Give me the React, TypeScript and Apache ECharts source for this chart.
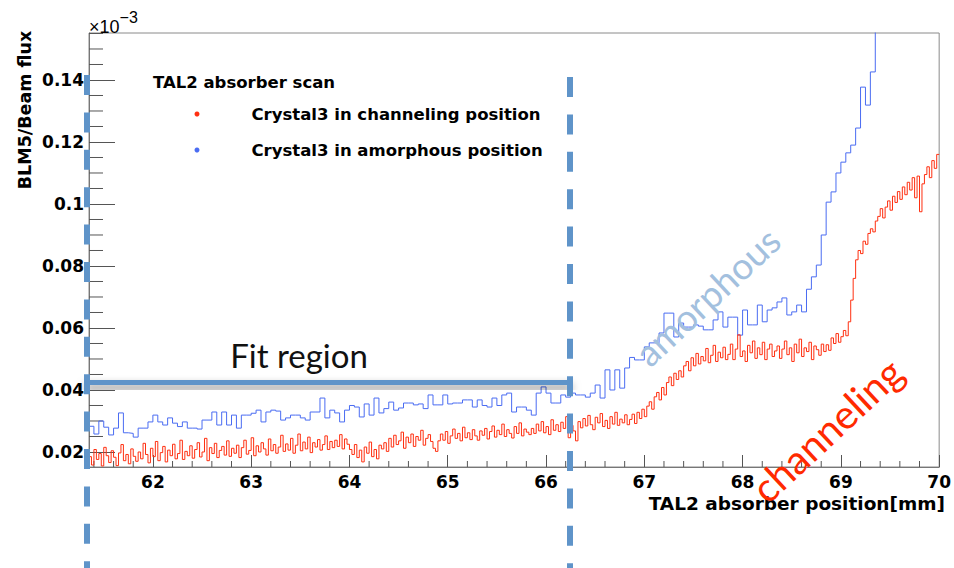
import React, { useEffect, useRef } from 'react';
import * as echarts from 'echarts';

// Axis ranges. Positions in mm; BLM5/Beam flux in units of 1e-5
// (the tick labels are printed in units of 1e-3, hence the ×10^-3 marker).
const X_MIN = 61.35;
const X_MAX = 70.0;
const Y_MIN = 1.516;
const Y_MAX = 15.516;

const SERIES_NAMES = ['Crystal3 in channeling position', 'Crystal3 in amorphous position'];
const LEGEND_TITLE = 'TAL2 absorber scan';
const X_TITLE = 'TAL2 absorber position[mm]';
const Y_TITLE = 'BLM5/Beam flux';

// Crystal3 in channeling position: 0.025 mm bins starting at 61.35 mm
const channelingStart = 61.35;
const channelingBin = 0.025;
const channelingValues = [
  1.85, 1.58, 2.08, 1.76, 1.95, 1.55, 2.15, 1.88, 1.66, 2.04, 1.83, 1.56, 1.97, 2.24, 1.72, 1.92, 1.62, 2.10, 1.86, 1.70,
  2.00, 1.78, 2.28, 1.92, 1.65, 2.12, 1.85, 2.34, 1.72, 1.98, 2.18, 1.68, 2.06, 1.88, 2.25, 1.78, 1.95, 2.38, 1.76, 2.02,
  1.88, 2.20, 1.80, 2.08, 2.30, 1.84, 2.00, 2.44, 1.72, 2.14, 1.95, 2.28, 1.82, 2.05, 2.18, 1.90, 2.36, 1.86, 2.12, 1.96,
  2.22, 1.82, 2.14, 2.38, 1.93, 2.05, 2.46, 1.88, 2.20, 2.00, 2.30, 2.10, 1.90, 2.42, 2.04, 2.24, 1.96, 2.16, 2.54, 2.02,
  2.26, 2.06, 2.44, 1.96, 2.22, 2.58, 2.04, 2.32, 2.10, 2.48, 1.98, 2.30, 2.16, 2.40, 2.06, 2.24, 2.52, 2.08, 2.34, 2.14,
  2.38, 2.18, 2.56, 2.10, 2.42, 2.25, 2.08, 1.92, 2.24, 1.82, 2.06, 1.68, 2.16, 1.96, 2.32, 1.85, 2.08, 1.78, 2.22, 2.10,
  2.30, 2.02, 2.44, 2.16, 2.54, 2.24, 2.36, 2.64, 2.12, 2.48, 2.30, 2.58, 2.18, 2.50, 2.38, 2.70, 2.22, 2.44, 2.56, 2.34,
  2.12, 2.02, 2.36, 2.58, 2.38, 2.66, 2.28, 2.52, 2.74, 2.44, 2.60, 2.36, 2.80, 2.46, 2.62, 2.40, 2.72, 2.52, 2.38, 2.68,
  2.54, 2.76, 2.42, 2.66, 2.84, 2.48, 2.70, 2.56, 2.90, 2.50, 2.72, 2.60, 2.45, 2.82, 2.60, 2.94, 2.52, 2.74, 2.64, 2.56,
  2.76, 2.60, 2.90, 2.68, 2.98, 2.62, 2.82, 2.56, 3.04, 2.70, 2.88, 2.66, 2.96, 2.76, 3.14, 2.46, 2.86, 2.68, 2.36, 2.98,
  2.78, 3.08, 2.84, 3.18, 2.88, 2.72, 3.12, 2.94, 3.24, 2.82, 3.02, 2.76, 3.14, 2.90, 3.28, 2.86, 3.06, 2.94, 3.20, 2.88,
  3.05, 3.22, 2.92, 3.28, 3.08, 3.38, 3.14, 3.48, 3.62, 3.38, 3.78, 3.92, 3.68, 4.08, 3.84, 4.24, 4.42, 4.14, 4.54, 4.34,
  4.62, 4.42, 4.78, 4.92, 4.62, 5.04, 4.78, 5.18, 4.84, 5.08, 4.94, 5.34, 4.88, 5.12, 5.44, 4.92, 5.22, 5.04, 5.38, 4.98,
  5.15, 5.48, 4.98, 5.32, 5.78, 5.08, 5.26, 4.92, 5.44, 5.20, 5.58, 5.02, 5.36, 5.14, 5.54, 4.98, 5.32, 5.48, 5.08, 5.26,
  5.42, 5.02, 5.32, 5.58, 5.14, 5.36, 4.92, 5.48, 5.20, 5.64, 5.08, 5.36, 5.24, 5.54, 4.98, 5.42, 5.30, 5.12, 5.48, 5.24,
  5.46, 5.28, 5.68, 5.50, 5.82, 5.54, 5.72, 5.92, 5.75, 6.20, 6.90, 7.60, 8.20, 8.50, 8.40, 8.80, 8.70, 9.05, 9.20, 9.10,
  9.45, 9.60, 9.85, 9.55, 9.90, 10.10, 9.80, 10.25, 10.05, 10.40, 10.15, 10.55, 10.30, 10.70, 10.45, 10.85, 10.20, 10.90, 9.75, 10.65,
  10.95, 11.20, 10.85, 11.40, 11.15, 11.60,
];

// Crystal3 in amorphous position: 0.05 mm bins starting at 61.35 mm
const amorphousStart = 61.35;
const amorphousBin = 0.05;
const amorphousValues = [
  2.83, 2.58, 3.00, 2.80, 2.55, 2.77, 3.26, 2.62, 2.60, 2.48,
  2.77, 2.77, 2.97, 3.19, 2.97, 2.87, 3.10, 2.93, 2.82, 2.97,
  2.77, 2.77, 2.74, 3.03, 3.03, 3.29, 2.87, 3.29, 2.87, 3.19,
  2.77, 3.19, 3.19, 3.25, 3.35, 2.97, 3.29, 3.35, 3.32, 3.03,
  3.10, 3.19, 3.19, 3.10, 3.03, 3.29, 3.29, 3.74, 3.10, 3.35,
  3.26, 2.97, 3.35, 3.50, 3.45, 3.13, 3.55, 3.19, 3.74, 3.26,
  3.40, 3.61, 3.35, 3.42, 3.58, 3.58, 3.52, 3.55, 3.40, 3.84,
  3.52, 3.52, 3.84, 3.55, 3.58, 3.58, 3.68, 3.68, 3.45, 3.68,
  3.50, 3.45, 3.74, 3.50, 3.84, 3.90, 3.29, 3.45, 3.45, 3.35,
  3.19, 3.90, 4.10, 3.90, 3.58, 3.58, 3.84, 3.77, 3.90, 3.84,
  3.84, 3.77, 3.90, 4.16, 3.74, 4.65, 4.00, 4.65, 4.06, 4.71,
  5.05, 4.97, 4.97, 5.39, 5.52, 5.52, 5.84, 6.48, 6.48, 5.71,
  6.16, 6.03, 6.03, 6.10, 6.06, 5.94, 5.94, 6.26, 6.52, 6.03,
  6.35, 6.35, 5.77, 6.58, 6.10, 6.10, 6.74, 6.20, 6.58, 6.65,
  6.84, 6.97, 6.42, 6.52, 6.74, 6.52, 7.25, 7.65, 8.03, 9.00,
  10.06, 10.39, 11.00, 11.35, 11.65, 11.90, 12.45, 13.77, 13.19, 14.26,
  16.20,
];

// Minor tick positions (major ticks come from the axes themselves)
const xMinorTicks: number[] = [];
for (let i = 61; i < 70; i++) {
  for (const f of [0.2, 0.4, 0.6, 0.8]) {
    const v = +(i + f).toFixed(1);
    if (v > X_MIN && v < X_MAX) xMinorTicks.push(v);
  }
}
const yMinorTicks: number[] = [];
for (let v = 2.5; v < Y_MAX; v += 0.5) {
  if (Math.abs(v / 2 - Math.round(v / 2)) > 1e-6) yMinorTicks.push(v);
}

const RED = '#ff2f10';
const BLUE = '#4a6cf2';
const MARK_BLUE = '#5f94c9';
const ROOT_FONT = 'DejaVu Sans';
const NOTE_FONT = 'Lato';

// histogram bins -> step-line points (low edge of each bin, plus the last upper edge)
function binsToSteps(start: number, width: number, values: number[]): number[][] {
  const pts = values.map((v, i) => [+(start + i * width).toFixed(4), v]);
  pts.push([+(start + values.length * width).toFixed(4), values[values.length - 1]]);
  return pts;
}

function yLabel(v: number): string {
  return String(Math.round((v / 100) * 10000) / 10000);
}

export default function App() {
  const ref = useRef<HTMLDivElement>(null);

  useEffect(() => {
    if (!ref.current) return;
    const chart = echarts.init(ref.current, null, { renderer: 'svg' });

    const tickStyle = { color: '#555', width: 1 };

    const dashedLine = (x: number, y1: number) => ({
      type: 'line',
      z: 100,
      silent: true,
      shape: { x1: x, y1, x2: x, y2: 600 },
      style: { stroke: MARK_BLUE, lineWidth: 6, lineDash: [20, 17.4] },
    });

    const centered = { textAlign: 'center', textVerticalAlign: 'middle', align: 'center', verticalAlign: 'middle' };

    chart.setOption({
      animation: false,
      backgroundColor: '#ffffff',
      title: {
        text: LEGEND_TITLE,
        left: 153,
        top: 74,
        padding: 0,
        textStyle: { fontFamily: ROOT_FONT, fontWeight: 'bold', fontSize: 16.5, color: '#000' },
      },
      legend: {
        data: SERIES_NAMES,
        orient: 'vertical',
        left: 194.5,
        top: 104,
        padding: 0,
        icon: 'circle',
        itemWidth: 5,
        itemHeight: 5,
        itemGap: 16,
        textStyle: {
          fontFamily: ROOT_FONT,
          fontWeight: 'bold',
          fontSize: 16.5,
          color: '#000',
          lineHeight: 20,
          padding: [0, 0, 0, 47],
        },
      },
      grid: {
        left: 89,
        right: 9,
        top: 33,
        bottom: 101,
        show: true,
        borderColor: '#8a8a8a',
        borderWidth: 1,
        containLabel: false,
      },
      xAxis: {
        type: 'value',
        min: X_MIN,
        max: X_MAX,
        minInterval: 1,
        maxInterval: 1,
        splitNumber: 9,
        splitLine: { show: false },
        axisLine: { lineStyle: { color: '#777', width: 1 } },
        axisTick: { inside: true, length: 12, lineStyle: tickStyle },
        axisLabel: {
          showMinLabel: false,
          margin: 6,
          fontFamily: ROOT_FONT,
          fontWeight: 'bold',
          fontSize: 17,
          color: '#000',
        },
      },
      yAxis: {
        type: 'value',
        min: Y_MIN,
        max: Y_MAX,
        minInterval: 2,
        maxInterval: 2,
        splitNumber: 7,
        // exponent marker printed above the axis
        name: '{b|×10}{sup|−3}',
        nameLocation: 'end',
        nameGap: -3,
        nameTextStyle: {
          align: 'left',
          verticalAlign: 'bottom',
          color: '#000',
          rich: {
            b: { fontFamily: 'Liberation Sans', fontSize: 18, lineHeight: 27, verticalAlign: 'bottom', color: '#000' },
            sup: { fontFamily: 'Liberation Sans', fontSize: 16, lineHeight: 16, verticalAlign: 'top', color: '#000' },
          },
        },
        splitLine: { show: false },
        axisLine: { show: true, lineStyle: { color: '#777', width: 1 } },
        axisTick: { inside: true, length: 26, lineStyle: tickStyle },
        axisLabel: {
          showMinLabel: false,
          showMaxLabel: false,
          margin: 5,
          fontFamily: ROOT_FONT,
          fontWeight: 'bold',
          fontSize: 17,
          color: '#000',
          formatter: yLabel,
        },
      },
      series: [
        {
          name: SERIES_NAMES[0],
          type: 'line',
          step: 'end',
          showSymbol: false,
          symbol: 'none',
          z: 5,
          itemStyle: { color: RED },
          lineStyle: { color: RED, width: 1 },
          data: binsToSteps(channelingStart, channelingBin, channelingValues),
        },
        {
          name: SERIES_NAMES[1],
          type: 'line',
          step: 'end',
          showSymbol: false,
          symbol: 'none',
          z: 4,
          itemStyle: { color: BLUE },
          lineStyle: { color: BLUE, width: 1 },
          data: binsToSteps(amorphousStart, amorphousBin, amorphousValues),
        },
        {
          type: 'custom',
          silent: true,
          clip: false,
          z: 3,
          data: xMinorTicks.map((v) => [v, Y_MIN]),
          encode: { x: 0, y: 1 },
          renderItem: (_p: any, api: any) => {
            const p = api.coord([api.value(0), api.value(1)]);
            return {
              type: 'line',
              shape: { x1: p[0], y1: p[1], x2: p[0], y2: p[1] - 6 },
              style: { stroke: '#555', lineWidth: 1 },
            };
          },
        },
        {
          type: 'custom',
          silent: true,
          clip: false,
          z: 3,
          data: yMinorTicks.map((v) => [X_MIN, v]),
          encode: { x: 0, y: 1 },
          renderItem: (_p: any, api: any) => {
            const p = api.coord([api.value(0), api.value(1)]);
            return {
              type: 'line',
              shape: { x1: p[0], y1: p[1], x2: p[0] + 14, y2: p[1] },
              style: { stroke: '#555', lineWidth: 1 },
            };
          },
        },
      ],
      graphic: [
        // axis titles
        {
          type: 'text',
          x: 25,
          y: 110,
          rotation: Math.PI / 2,
          style: { text: Y_TITLE, fontFamily: ROOT_FONT, fontWeight: 'bold', fontSize: 17.5, fill: '#000', ...centered },
        },
        {
          type: 'text',
          x: 945,
          y: 503,
          style: { text: X_TITLE, fontFamily: ROOT_FONT, fontWeight: 'bold', fontSize: 18.5, fill: '#000', textAlign: 'right', textVerticalAlign: 'middle', align: 'right', verticalAlign: 'middle' },
        },
        // fit region boundaries
        dashedLine(87, 75),
        dashedLine(570, 77),
        {
          type: 'rect',
          z: 99,
          silent: true,
          shape: { x: 85, y: 380, width: 487, height: 5 },
          style: { fill: MARK_BLUE, shadowBlur: 8, shadowColor: 'rgba(0,0,0,0.5)', shadowOffsetY: 5 },
        },
        {
          type: 'text',
          z: 100,
          x: 299,
          y: 355,
          style: { text: 'Fit region', fontFamily: NOTE_FONT, fontSize: 33, fill: '#111', ...centered },
        },
        {
          type: 'text',
          z: 100,
          x: 707,
          y: 296,
          rotation: (43 * Math.PI) / 180,
          style: { text: 'amorphous', fontFamily: NOTE_FONT, fontSize: 37, fill: '#a3c0de', ...centered },
        },
        {
          type: 'text',
          z: 100,
          x: 827,
          y: 430,
          rotation: (43 * Math.PI) / 180,
          style: { text: 'channeling', fontFamily: NOTE_FONT, fontSize: 40, fill: '#ff2a00', ...centered },
        },
      ],
    });

    return () => chart.dispose();
  }, []);

  return <div ref={ref} style={{ position: 'fixed', left: 0, top: 0, width: 954, height: 568 }} />;
}
